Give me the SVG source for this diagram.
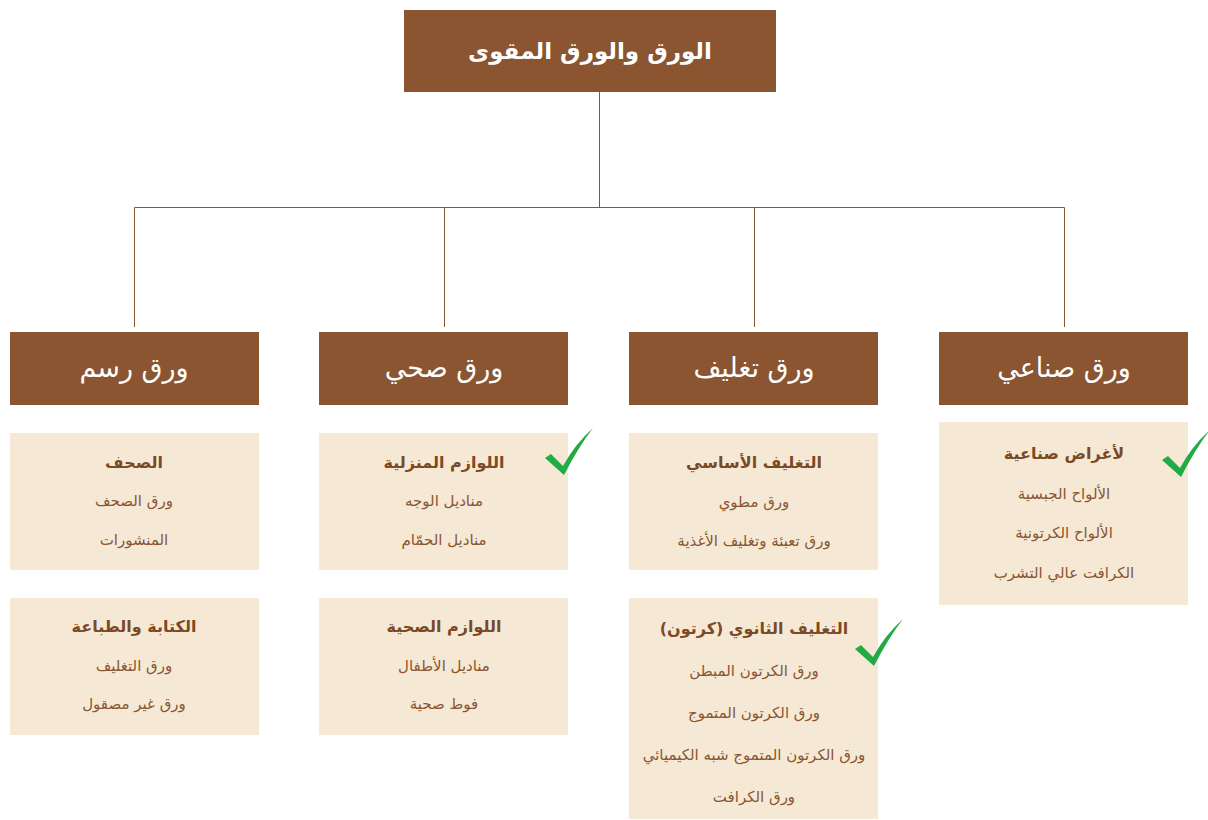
<svg xmlns="http://www.w3.org/2000/svg" width="1208" height="820" viewBox="0 0 1208 820">
<style>
.hdr{fill:#8a5530}
.card{fill:#f5e9d6}
.ht{font-family:"DejaVu Sans",sans-serif;fill:#ffffff;text-anchor:middle;direction:rtl}
.tt{font-family:"DejaVu Sans",sans-serif;fill:#7b4a24;font-weight:bold;font-size:16px;text-anchor:middle;direction:rtl}
.it{font-family:"DejaVu Sans",sans-serif;fill:#8a5530;font-size:15px;text-anchor:middle;direction:rtl}
.ln{stroke:#8a5530;stroke-width:1;fill:none}
.chk{fill:#22aa44}
</style>
<defs>
<path id="check" d="M0,30 L6,26 L18,38 Q30,16 48,0 Q34,18 19,47 Z"/>
</defs>
<rect width="1208" height="820" fill="#ffffff"/>
<g id="connectors">
<path class="ln" d="M599.5,92 V207.5 M134.5,207.5 H1064.5 M134.5,207.5 V327 M444.5,207.5 V327 M754.5,207.5 V327 M1064.5,207.5 V327"/>
</g>
<g id="root">
<rect class="hdr" x="404" y="10" width="372" height="82"/>
<text class="ht" x="590" y="59" font-size="23" font-weight="bold">الورق والورق المقوى</text>
</g>
<g id="drawing">
<rect class="hdr" x="10" y="332" width="249" height="73"/>
<text class="ht" x="134" y="377" font-size="27">ورق رسم</text>
</g>
<g id="sanitary">
<rect class="hdr" x="319" y="332" width="249" height="73"/>
<text class="ht" x="444" y="377" font-size="27">ورق صحي</text>
</g>
<g id="packaging">
<rect class="hdr" x="629" y="332" width="249" height="73"/>
<text class="ht" x="754" y="377" font-size="27">ورق تغليف</text>
</g>
<g id="industrial">
<rect class="hdr" x="939" y="332" width="249" height="73"/>
<text class="ht" x="1064" y="377" font-size="27">ورق صناعي</text>
</g>
<g id="newspapers">
<rect class="card" x="10" y="433" width="249" height="137"/>
<text class="tt" x="134" y="468">الصحف</text>
<text class="it" x="134" y="506">ورق الصحف</text>
<text class="it" x="134" y="545">المنشورات</text>
</g>
<g id="writing">
<rect class="card" x="10" y="598" width="249" height="137"/>
<text class="tt" x="134" y="632">الكتابة والطباعة</text>
<text class="it" x="134" y="671">ورق التغليف</text>
<text class="it" x="134" y="709">ورق غير مصقول</text>
</g>
<g id="household">
<rect class="card" x="319" y="433" width="249" height="137"/>
<text class="tt" x="444" y="468">اللوازم المنزلية</text>
<text class="it" x="444" y="506">مناديل الوجه</text>
<text class="it" x="444" y="545">مناديل الحمّام</text>
</g>
<g id="health">
<rect class="card" x="319" y="598" width="249" height="137"/>
<text class="tt" x="444" y="632">اللوازم الصحية</text>
<text class="it" x="444" y="671">مناديل الأطفال</text>
<text class="it" x="444" y="709">فوط صحية</text>
</g>
<g id="primary">
<rect class="card" x="629" y="433" width="249" height="137"/>
<text class="tt" x="754" y="468">التغليف الأساسي</text>
<text class="it" x="754" y="507">ورق مطوي</text>
<text class="it" x="754" y="546">ورق تعبئة وتغليف الأغذية</text>
</g>
<g id="secondary">
<rect class="card" x="629" y="598" width="249" height="221"/>
<text class="tt" x="754" y="634">التغليف الثانوي (كرتون)</text>
<text class="it" x="754" y="676">ورق الكرتون المبطن</text>
<text class="it" x="754" y="718">ورق الكرتون المتموج</text>
<text class="it" x="754" y="760">ورق الكرتون المتموج شبه الكيميائي</text>
<text class="it" x="754" y="802">ورق الكرافت</text>
</g>
<g id="industrial-uses">
<rect class="card" x="939" y="422" width="249" height="183"/>
<text class="tt" x="1064" y="459">لأغراض صناعية</text>
<text class="it" x="1064" y="499">الألواح الجبسية</text>
<text class="it" x="1064" y="538">الألواح الكرتونية</text>
<text class="it" x="1064" y="578">الكرافت عالي التشرب</text>
</g>
<g id="checks">
<use href="#check" class="chk" x="545" y="428"/>
<use href="#check" class="chk" x="855" y="619"/>
<use href="#check" class="chk" x="1162" y="430"/>
</g>
</svg>
